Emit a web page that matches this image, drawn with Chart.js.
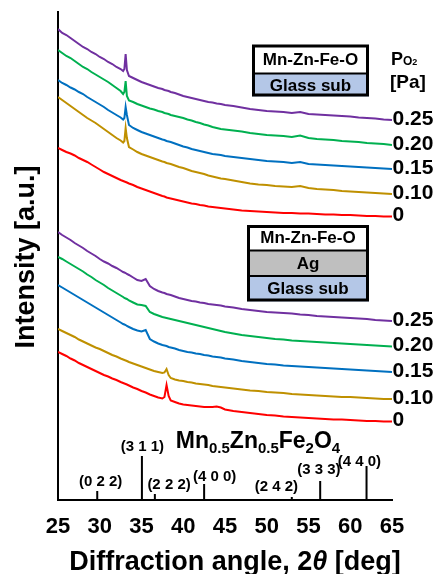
<!DOCTYPE html>
<html><head><meta charset="utf-8">
<script src="https://cdn.jsdelivr.net/npm/chart.js@4/dist/chart.umd.min.js"></script>
<style>html,body{margin:0;padding:0;background:#fff}#wrap{width:436px;height:574px;position:relative}</style>
</head><body><div id="wrap"><canvas id="c"></canvas></div>
<script>
// 2theta grid (deg)
const angles = [25,25.5,26,26.5,27,27.5,28,28.5,29,29.5,
  30,30.5,31,31.5,32,32.5,32.8,32.95,
  33.1,33.25,33.5,34,34.5,35,
  35.5,36,36.5,37,37.5,37.75,38,38.25,38.5,
  39,39.5,40,40.5,41,41.5,42,42.5,43,43.5,44,44.5,
  45,46,47,48,49,50,51,52,53,54,55,56,57,58,59,60,61,62,63,64,65];

// Mn-Zn-Fe-O / Glass sub (offset intensity, a.u.)
const glass025 = [471,467,465,462,459,456,453,451,448,446,
  443,441,438,436,433,431,429,431,
  446,430,424,422,420,418,
  416.5,415,413.5,412,411,410,409.5,409,408,
  407,405.5,404,403,402,401,400,399,398,397.5,396.5,396,
  395,394,392.5,391,390,389,388.5,388,387,388,386,385.5,385,384.5,384,383.5,382.5,382,381.5,380.5,380];
const glass020 = [450,447,444,442,439,436,433,431,428,425.5,
  423,420.5,418,415,412,409,406,408,
  419,404,399.5,398,396,394.5,
  393,391.5,390.5,389,388,387,386.5,386,385,
  384,383,382,380.5,379.5,378,377,375.5,374.5,373,372,371,
  370.5,369.5,368.5,367,366,365,364.5,364,363,364.5,362,361,360.5,360,359,358.5,358,357,356.5,356,355];
const glass015 = [420,417,415,412.5,410.5,408,406,403,400.5,398,
  395.5,393,390,387.5,385,382.5,380.5,382,
  393,385,375,372,370,368,
  366.5,365,363.5,362,360.5,360,359,358.5,358,
  356.5,355,353.5,352.5,351,350,349,348,347,346,345.5,345,
  344,343,342,341,340,339,338.5,338,337,338,336,335.5,335,334.5,334,333.5,333,332.5,332,331.5,331];
const glass010 = [403,400,397,394,391,388,385,382,379.5,377,
  374,371,368,365,362,359.5,357.5,359,
  372,362,353,350.5,348,346,
  344.5,343,341.5,340,338.5,338,337,336.5,336,
  334.5,333,332,330.5,329,328,327,326,324.5,323.5,322.5,321.5,
  321,319.5,318,316.5,315.5,315,314,313.5,313,314,312,311,310.5,310,309,308.5,308,307.5,307,306.5,306];
const glass000 = [352,350,348,346.5,344.5,342,340,338,335.5,333,
  330.5,328,326,324,322,320,319,318.5,
  318,317.5,316.5,315,313,311.5,
  310,308.5,307,305.5,304,303.5,302.5,302,301.5,
  300.5,299.5,298.5,297.5,296.5,296,295,294.5,293.5,293,292.5,292,
  291.5,290.5,289.5,289,288.5,288,287.5,287,287,286.5,286.5,286,285.5,285.5,285,285,284.5,284,284,283.5,283.5];

// Mn-Zn-Fe-O / Ag / Glass sub
const ag025 = [268,265,262.5,260,257,254.5,252,249,246.5,244,
  241,238.5,236.5,234,232,229.5,228,227.5,
  227,226,225,222.5,220,219,
  221,214,211,209,207.5,207,206,205.5,205,
  203.5,202,201,200,199,198.5,197.5,197,196,195.5,195,194.5,
  193.5,192.5,191,190,189,188,187.5,187,186.5,185.5,185,184,183.5,183,182.5,182,181.5,181,180,179.5,179];
const ag020 = [243,241,238.5,236,233.5,231,228.5,225.5,223,220,
  217.5,215,212,209.5,207,204.5,203,202,
  201.5,201,199.5,197.5,195.5,195,
  194,188,186,184.5,183,182.5,182,181.5,181,
  180,179,178,177,176,175,174,173,172,171,170,169,
  168,166.5,165,164,163,162,161,160.5,159.5,159,158.5,158,157.5,157,156.5,156,155.5,155,154.5,154,153.5];
const ag015 = [215,212.5,210,207.5,205,202.5,200,197.5,195,192.5,
  190,187.5,185,182.5,180,177.5,176,175.5,
  175,174,173,171,169.5,168.5,
  170,161,158.5,156.5,155,154.5,154,153,152.5,
  151.5,150,149,148,147.5,146.5,146,145,144.5,143.5,143,142.5,
  141.5,140.5,139,138,137,136,135.5,134.5,134,133.5,133,132.5,132,131.5,131,130.5,130,129.5,129,128.5,128];
const ag010 = [171,169,167,165,163,160.5,158.5,156.5,154.5,152.5,
  151,149,147,145,143.5,141.5,140.5,140,
  139.5,139,138,136.5,135,133.5,
  132,130.5,129,128,127,127.5,131,125,122,
  120.5,119.5,119,118,117.5,116.5,116,115.5,115,114,113.5,113,
  112.5,111.5,110.5,109.5,109,108,107.5,107,106,105.5,105,104.5,104,103.5,103,103,102.5,102,101.5,101,101];
const ag000 = [148,146,144,141.5,139.5,137,135,133,131,129,
  127,125,123.5,121.5,120,118,117,116.5,
  116,115.5,114.5,112.5,111,109,
  107.5,105.5,104,102.5,101.5,103,115,104,99.5,
  98,96.5,95.5,95,94.5,94,93.5,93,93,93,93.5,92.5,
  90.5,89,88,87,86,85,84.5,83.5,83,82.5,82,81.5,81,80.5,80.5,80,79.5,79,79,78.5,78.5];

const pressureLabels = ['0.25','0.20','0.15','0.10','0'];
const seriesColors = ['#7030a0','#00b050','#0070c0','#bf9000','#ff0000'];
const glassSeries = [glass025,glass020,glass015,glass010,glass000];
const agSeries = [ag025,ag020,ag015,ag010,ag000];

// Reference pattern Mn0.5Zn0.5Fe2O4
const hklLabels = ['(0 2 2)','(3 1 1)','(2 2 2)','(4 0 0)','(2 4 2)','(3 3 3)','(4 4 0)'];
const hklAngles = [29.7,35.05,36.6,42.5,53.0,56.4,61.95];
const hklHeights = [9,44,6,16,3,19,34];

// layout (label anchors in data coords)
const hklLabelAnchors = [[30.1,18],[35.1,53],[38.3,15],[43.75,23],[51.15,13],[56.25,30],[61.1,38]];

const FONT = "'Liberation Sans', Arial, sans-serif";

function mk(arr){ return angles.map((a,i)=>({x:a,y:arr[i]})); }
const datasets = [];
glassSeries.forEach((s,i)=>datasets.push({data:mk(s),borderColor:seriesColors[i],borderWidth:2,pointRadius:0,tension:0}));
agSeries.forEach((s,i)=>datasets.push({data:mk(s),borderColor:seriesColors[i],borderWidth:2,pointRadius:0,tension:0}));
const stickData = [];
hklAngles.forEach((a,i)=>{ stickData.push({x:a,y:0},{x:a,y:hklHeights[i]},{x:a,y:null}); });
datasets.push({data:stickData,borderColor:'#000',borderWidth:2,pointRadius:0,spanGaps:false});

function drawBox(ctx,x,y,w,rows){
  let yy=y;
  rows.forEach(r=>{
    ctx.fillStyle=r.fill; ctx.fillRect(x,yy,w,r.h);
    ctx.fillStyle='#000'; ctx.font='bold 17px '+FONT; ctx.textAlign='center'; ctx.textBaseline='middle';
    ctx.fillText(r.t,x+w/2,yy+r.h/2+1);
    yy+=r.h;
  });
  ctx.strokeStyle='#000'; ctx.lineWidth=2;
  yy=y;
  for(let i=0;i<rows.length-1;i++){ yy+=rows[i].h; ctx.beginPath(); ctx.moveTo(x,yy); ctx.lineTo(x+w,yy); ctx.stroke(); }
  ctx.lineWidth=3; ctx.strokeRect(x+1.5,y+1.5,w-3,yy+rows[rows.length-1].h-y-3);
}

const annot = {
  id:'annot',
  afterDraw(chart){
    const ctx=chart.ctx, xs=chart.scales.x, ys=chart.scales.y;
    ctx.save();
    // pressure labels
    ctx.fillStyle='#000'; ctx.font='bold 21px '+FONT; ctx.textAlign='left'; ctx.textBaseline='middle';
    [glassSeries,agSeries].forEach(grp=>grp.forEach((s,i)=>{
      ctx.fillText(pressureLabels[i], xs.getPixelForValue(65)+0.5, ys.getPixelForValue(s[s.length-1])-1);
    }));
    // Po2 [Pa]
    ctx.textBaseline='alphabetic';
    ctx.font='bold 18px '+FONT; ctx.fillText('P',391,65);
    let px=391+ctx.measureText('P').width;
    ctx.font='bold 12px '+FONT; ctx.fillText('O',px,65); px+=ctx.measureText('O').width;
    ctx.font='bold 9px '+FONT; ctx.fillText('2',px,65);
    ctx.font='bold 19px '+FONT; ctx.fillText('[Pa]',390,88);
    // boxes
    drawBox(ctx,252,44.5,117,[{t:'Mn-Zn-Fe-O',fill:'#ffffff',h:29},{t:'Glass sub',fill:'#b4c7e7',h:23}]);
    drawBox(ctx,247,225,122,[{t:'Mn-Zn-Fe-O',fill:'#ffffff',h:25.5},{t:'Ag',fill:'#bfbfbf',h:25.5},{t:'Glass sub',fill:'#b4c7e7',h:25.5}]);
    // hkl labels
    ctx.fillStyle='#000'; ctx.font='bold 15px '+FONT; ctx.textAlign='center'; ctx.textBaseline='middle';
    hklLabels.forEach((t,i)=>{
      ctx.fillText(t, xs.getPixelForValue(hklLabelAnchors[i][0]), ys.getPixelForValue(hklLabelAnchors[i][1]));
    });
    // formula
    const parts=[['Mn',0],['0.5',1],['Zn',0],['0.5',1],['Fe',0],['2',1],['O',0],['4',1]];
    let tw=0;
    parts.forEach(p=>{ ctx.font='bold '+(p[1]?15:23)+'px '+FONT; tw+=ctx.measureText(p[0]).width; });
    let fx=xs.getPixelForValue(48.95)-tw/2; const fb=ys.getPixelForValue(52);
    ctx.textAlign='left'; ctx.textBaseline='alphabetic';
    parts.forEach(p=>{ ctx.font='bold '+(p[1]?15:23)+'px '+FONT; ctx.fillText(p[0],fx,fb+(p[1]?5:0)); fx+=ctx.measureText(p[0]).width; });
    // x title with italic theta
    const t1='Diffraction angle, 2', t2='\u03B8', t3=' [deg]';
    ctx.font='bold 27px '+FONT; const w1=ctx.measureText(t1).width, w3=ctx.measureText(t3).width;
    ctx.font='italic bold 27px '+FONT; const w2=ctx.measureText(t2).width;
    let tx=235-(w1+w2+w3)/2;
    ctx.font='bold 27px '+FONT; ctx.fillText(t1,tx,570); tx+=w1;
    ctx.font='italic bold 27px '+FONT; ctx.fillText(t2,tx,570); tx+=w2;
    ctx.font='bold 27px '+FONT; ctx.fillText(t3,tx,570);
    // y title
    ctx.translate(34,257); ctx.rotate(-Math.PI/2);
    ctx.textAlign='center'; ctx.font='bold 27px '+FONT; ctx.fillText('Intensity [a.u.]',0,0);
    ctx.restore();
  }
};

new Chart(document.getElementById('c'),{
  type:'line',
  data:{datasets},
  options:{
    responsive:true, maintainAspectRatio:false, animation:false,
    layout:{padding:{top:12,right:44,left:0,bottom:0}},
    plugins:{legend:{display:false},tooltip:{enabled:false}},
    elements:{line:{fill:false}},
    scales:{
      x:{type:'linear',min:25,max:65,
        ticks:{stepSize:5,color:'#000',font:{family:FONT,size:22,weight:'bold'},padding:14,maxRotation:0},
        grid:{display:false,drawTicks:false},
        border:{display:true,color:'#000',width:2},
        afterFit(s){ s.height=74; }},
      y:{type:'linear',min:0,max:488,
        ticks:{display:false},
        grid:{display:false,drawTicks:false},
        border:{display:true,color:'#000',width:2},
        afterFit(s){ s.width=58; }}
    }
  },
  plugins:[annot]
});
</script></body></html>
